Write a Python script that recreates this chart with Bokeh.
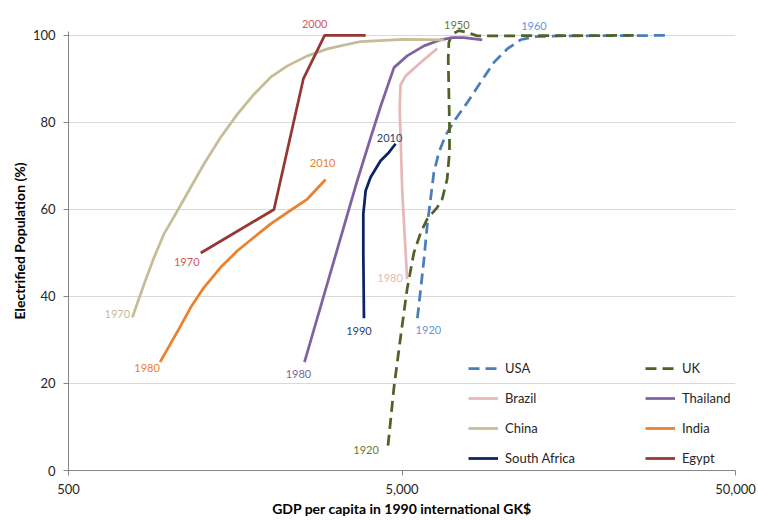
from bokeh.plotting import figure
from bokeh.models import FixedTicker, Range1d, ColumnDataSource, NumeralTickFormatter
from bokeh.core.properties import value
from bokeh.embed import file_html
from bokeh.resources import INLINE

# ---------------- data (GDP per capita, 1990 GK$ ; electrified population %) ----------------
usa_gdp = [5560, 5690, 5820, 5950, 6090, 6230, 6450, 6750, 7240, 7850, 8600, 9430, 10340, 11340, 12430, 14940, 31200]
usa_elec = [35, 41.7, 48.6, 56.3, 62.4, 68.5, 73.1, 77.0, 80.8, 84.6, 89.2, 93.8, 96.9, 99.0, 99.7, 99.9, 100]
usa_label_text = ["1920", "1960"]
usa_label_idx = [0, 14]

uk_gdp = [4540, 4730, 4950, 5180, 5430, 5690, 5950, 6380, 6600, 6830, 6940, 6940, 6910, 6880, 6910, 7070, 7400, 7850, 8400, 24770]
uk_elec = [5.7, 19.1, 30.6, 41.7, 50.1, 54.7, 57.8, 60.5, 62.4, 67.0, 73.1, 79.3, 86.9, 94.6, 98.4, 100.3, 101.1, 100.7, 99.9, 100]
uk_label_text = ["1920", "1950"]
uk_label_idx = [0, 16]

brazil_gdp = [5180, 5010, 4920, 4950, 5130, 5690, 6380]
brazil_elec = [44.0, 63.9, 83.1, 88.6, 90.7, 93.8, 97.0]
brazil_label_text = ["1980"]
brazil_label_idx = [0]

thailand_gdp = [2550, 3670, 4030, 4310, 4730, 5180, 5820, 6530, 7070, 7670, 8700]
thailand_elec = [24.9, 66.6, 76.6, 83.6, 92.6, 95.3, 97.6, 99.0, 99.5, 99.5, 99.0]
thailand_label_text = ["1980"]
thailand_label_idx = [0]

china_gdp = [777, 843, 903, 967, 1061, 1163, 1275, 1430, 1605, 1800, 2020, 2266, 2601, 2986, 3273, 3758, 5066, 6680]
china_elec = [35.2, 42.9, 49.0, 54.4, 59.7, 65.1, 70.5, 76.6, 81.9, 86.5, 90.4, 93.0, 95.3, 96.9, 97.6, 98.6, 99.1, 99.0]
china_label_text = ["1970"]
china_label_idx = [0]

india_gdp = [941, 1073, 1163, 1275, 1430, 1605, 1800, 2020, 2266, 2601, 2951]
india_elec = [24.9, 32.6, 37.5, 42.1, 46.7, 50.5, 53.6, 56.7, 59.3, 62.4, 66.9]
india_label_text = ["1980", "2010"]
india_label_idx = [0, 10]

safrica_gdp = [3845, 3828, 3828, 3890, 4025, 4313, 4568, 4784]
safrica_elec = [35, 50, 59, 64.3, 67.4, 71.2, 73.1, 75.1]
safrica_label_text = ["1990", "2010"]
safrica_label_idx = [0, 7]

egypt_gdp = [1246, 2066, 2530, 2931, 3890]
egypt_elec = [50, 60, 90, 100, 100]
egypt_label_text = ["1970", "2000"]
egypt_label_idx = [0, 3]

x_ticks = [500, 5000, 50000]
y_ticks = [0, 20, 40, 60, 80, 100]

# ---------------- styles ----------------
FONT = "Lato"
series = [
    ("USA", usa_gdp, usa_elec, usa_label_text, usa_label_idx,
     dict(color="#4A7EBB", dash="11 6", label_color="#5F98D8", offsets=[(11, 12), (0, -11)])),
    ("UK", uk_gdp, uk_elec, uk_label_text, uk_label_idx,
     dict(color="#4F6228", dash="11 6", label_color="#637A36", offsets=[(-22, 4), (-2, -6)])),
    ("Brazil", brazil_gdp, brazil_elec, brazil_label_text, brazil_label_idx,
     dict(color="#E6B9B8", dash="solid", label_color="#E6B9B8", offsets=[(-17, -1)])),
    ("Thailand", thailand_gdp, thailand_elec, thailand_label_text, thailand_label_idx,
     dict(color="#7F63A1", dash="solid", label_color="#7F63A1", offsets=[(-6, 12)])),
    ("China", china_gdp, china_elec, china_label_text, china_label_idx,
     dict(color="#C4BD97", dash="solid", label_color="#C4BD97", offsets=[(-15, -3)])),
    ("India", india_gdp, india_elec, india_label_text, india_label_idx,
     dict(color="#E9812F", dash="solid", label_color="#E9812F", offsets=[(-13, 6), (-3, -16)])),
    ("South Africa", safrica_gdp, safrica_elec, safrica_label_text, safrica_label_idx,
     dict(color="#0B2462", dash="solid", label_color="#2A4470", offsets=[(-5, 13), (-6, -6)])),
    ("Egypt", egypt_gdp, egypt_elec, egypt_label_text, egypt_label_idx,
     dict(color="#953735", dash="solid", label_color="#D0595B", offsets=[(-14, 9), (-10, -11)])),
]

p = figure(width=758, height=520, x_axis_type="log",
           x_range=Range1d(500, 50000), y_range=Range1d(0, 105.5),
           output_backend="svg", toolbar_location=None,
           min_border_left=68, min_border_right=23, min_border_top=11, min_border_bottom=50)
p.outline_line_color = None
p.background_fill_color = "white"
p.border_fill_color = "white"

# grid
p.xgrid.grid_line_color = None
p.ygrid.grid_line_color = "#D9D9D9"
p.ygrid.grid_line_width = 1
p.ygrid.ticker = FixedTicker(ticks=y_ticks)

# axes
axis_gray = "#868686"
for ax in (p.xaxis[0], p.yaxis[0]):
    ax.axis_line_color = axis_gray
    ax.major_tick_line_color = axis_gray
    ax.minor_tick_line_color = None
    ax.major_tick_in = 0
    ax.major_tick_out = 5
    ax.major_label_text_font = FONT
    ax.major_label_text_font_size = "13px"
    ax.major_label_text_color = "#262626"
    ax.axis_label_text_font = FONT
    ax.axis_label_text_font_size = "14px"
    ax.axis_label_text_font_style = "bold"
    ax.axis_label_text_color = "#000000"

p.xaxis[0].ticker = FixedTicker(ticks=x_ticks)
p.xaxis[0].formatter = NumeralTickFormatter(format="0,0")
p.xaxis[0].axis_label = "GDP per capita in 1990 international GK$"
p.xaxis[0].major_label_standoff = 8
p.xaxis[0].axis_label_standoff = 3
p.xaxis[0].bounds = (500, 50000)

p.yaxis[0].ticker = FixedTicker(ticks=y_ticks)
p.yaxis[0].axis_label = "Electrified Population (%)"
p.yaxis[0].major_label_standoff = 8
p.yaxis[0].axis_label_standoff = 2
p.yaxis[0].bounds = (0, 100.9)

# lines
for name, gx, ey, ltxt, lidx, st in series:
    p.line(gx, ey, line_color=st["color"], line_width=2.75, line_dash=st["dash"],
           line_join="round", line_cap="butt", legend_label=name)

# data labels
for name, gx, ey, ltxt, lidx, st in series:
    src = ColumnDataSource(dict(
        x=[gx[i] for i in lidx],
        y=[ey[i] for i in lidx],
        t=ltxt,
        dx=[o[0] for o in st["offsets"]],
        dy=[o[1] for o in st["offsets"]],
    ))
    p.text(x="x", y="y", text="t", x_offset="dx", y_offset="dy", source=src,
           text_color=st["label_color"], text_font=value(FONT), text_font_size="11px",
           text_align="center", text_baseline="middle")

# legend
lg = p.legend[0]
lg.location = (400, 2)
lg.orientation = "horizontal"
lg.ncols = 2
lg.glyph_width = 30
lg.glyph_height = 20
lg.label_height = 20
lg.label_width = 130
lg.label_standoff = 7
lg.spacing = 10
lg.padding = 0
lg.margin = 0
lg.border_line_color = None
lg.background_fill_alpha = 0
lg.label_text_font = FONT
lg.label_text_font_size = "13px"
lg.label_text_color = "#262626"
lg.click_policy = "none"

open("out.html", "w").write(file_html(p, INLINE))
